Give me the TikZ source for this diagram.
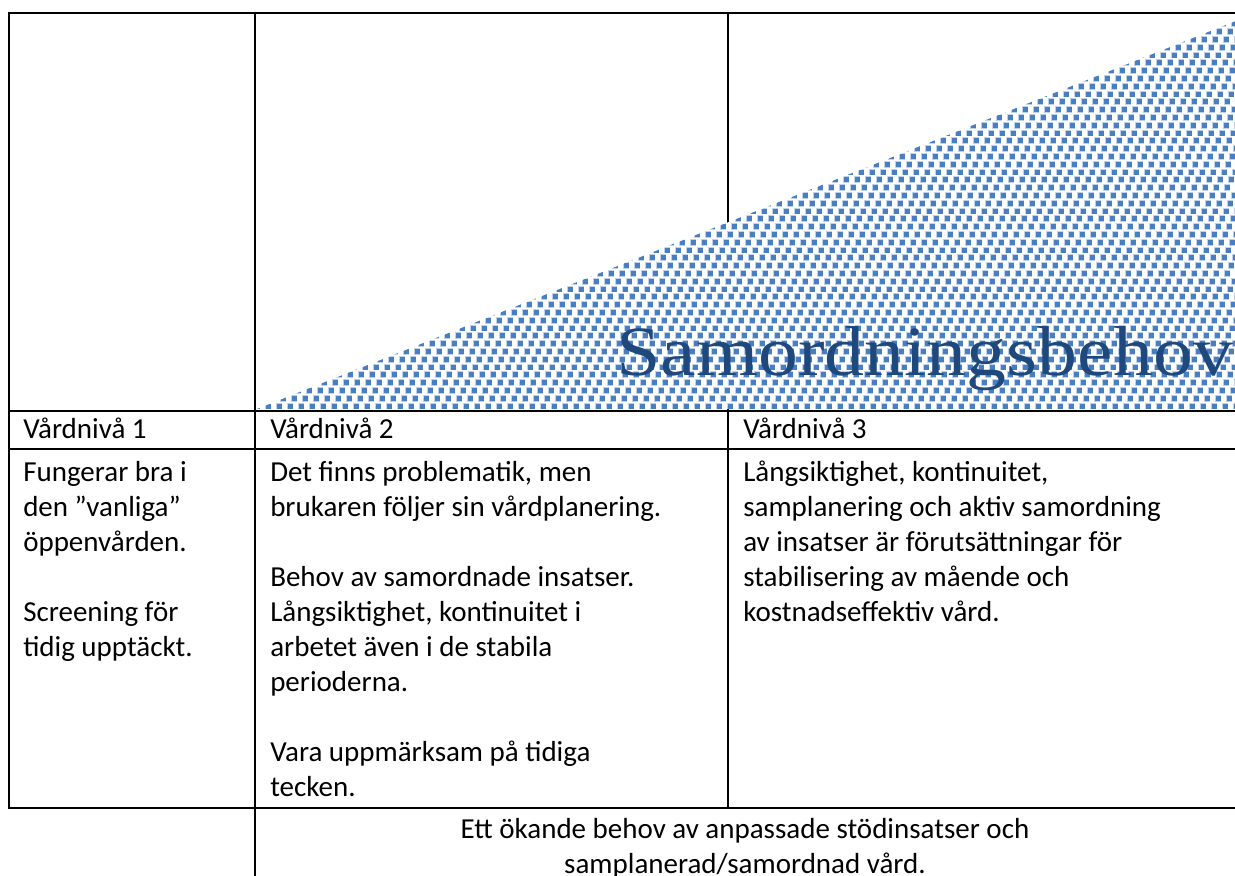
\documentclass[tikz,border=0pt]{standalone}
\usepackage{fontspec}
\setmainfont{Carlito}
\newfontfamily\wordartfont{Liberation Serif}
\definecolor{dotblue}{HTML}{4A7EC2}
\definecolor{halo}{HTML}{BFD2EC}
\definecolor{darkblue}{HTML}{1F497D}
\tikzset{
  rule/.style={line width=1.8pt, line cap=rect},
  txt/.style={anchor=base west, inner sep=0pt, font=\fontsize{21.75}{27}\selectfont},
  ctxt/.style={anchor=base, inner sep=0pt, font=\fontsize{21.75}{27}\selectfont},
  dot/.style={fill=dotblue},
  halodot/.style={fill=halo},
}
\begin{document}
\begin{tikzpicture}[x=0.75pt,y=-0.75pt]
\useasboundingbox (0,0) rectangle (1235,875);
% grid corner coordinates
\coordinate (tl) at (9,13);
\coordinate (tr) at (1236,13);
\coordinate (c2t) at (255,13);
\coordinate (c3t) at (728,13);
\coordinate (h1l) at (9,411);
\coordinate (h1r) at (1236,411);
\coordinate (h2l) at (9,449);
\coordinate (h2r) at (1236,449);
\coordinate (bl) at (9,808);
\coordinate (br) at (1236,808);
\coordinate (c2b) at (255,876);
\coordinate (c3b) at (728,808);
% rules
\draw[rule] (tl) -- (tr);
\draw[rule] (h1l) -- (h1r);
\draw[rule] (h2l) -- (h2r);
\draw[rule] (bl) -- (br);
\draw[rule] (tl) -- (bl);
\draw[rule] (c2t) -- (c2b);
\draw[rule] (c3t) -- (c3b);
% dotted triangle
\coordinate (ta) at (257,409);
\coordinate (tb) at (1236,21);
\coordinate (tc) at (1236,409);
\begin{scope}
\clip (ta) -- (tb) -- (tc) -- cycle;
\fill[white] (ta) -- (tb) -- (tc) -- cycle;
\foreach \j in {0,...,50}{
  \pgfmathsetmacro\yy{409-3-\j*7.8}
  \pgfmathsetmacro\xs{257+(409-\yy)/0.3967}
  \pgfmathsetmacro\off{mod(\j*4,11)}
  \pgfmathtruncatemacro\ks{floor((\xs-257-\off)/11)-1}
  \foreach \k in {\ks,...,92}{
    \fill[halodot] ({257+\off+\k*11-3.4},{\yy-3.4}) rectangle ++(6.8,6.8);
  }
  \foreach \k in {\ks,...,92}{
    \fill[dot] ({257+\off+\k*11-2.5},{\yy-2.5}) rectangle ++(5,5);
  }
}
\end{scope}
\node[anchor=base west, inner sep=0pt, text=darkblue, xscale=1.13, font=\wordartfont\fontsize{53}{58}\selectfont] (samord) at (616,375) {Samordningsbehov};
% headers
\node[txt] (h1) at (23,438) {Vårdnivå 1};
\node[txt] (h2) at (270,438) {Vårdnivå 2};
\node[txt] (h3) at (743,438) {Vårdnivå 3};
% column 1
\foreach \n/\t in {1/{Fungerar bra i},2/{den ”vanliga”},3/{öppenvården.},5/{Screening för},6/{tidig upptäckt.}}{
  \node[txt] (a\n) at (23,{481+(\n-1)*35.1}) {\t};
}
% column 2
\foreach \n/\t in {1/{Det finns problematik, men},2/{brukaren följer sin vårdplanering.},4/{Behov av samordnade insatser.},5/{Långsiktighet, kontinuitet i},6/{arbetet även i de stabila},7/{perioderna.},9/{Vara uppmärksam på tidiga},10/{tecken.}}{
  \node[txt] (b\n) at (270,{481+(\n-1)*35.1}) {\t};
}
% column 3
\foreach \n/\t in {1/{Långsiktighet, kontinuitet,},2/{samplanering och aktiv samordning},3/{av insatser är förutsättningar för},4/{stabilisering av mående och},5/{kostnadseffektiv vård.}}{
  \node[txt] (c\n) at (743,{481+(\n-1)*35.1}) {\t};
}
% bottom text
\node[ctxt] (f1) at (745,838) {Ett ökande behov av anpassade stödinsatser och};
\node[ctxt] (f2) at (745,873) {samplanerad/samordnad vård.};
\end{tikzpicture}
\end{document}
